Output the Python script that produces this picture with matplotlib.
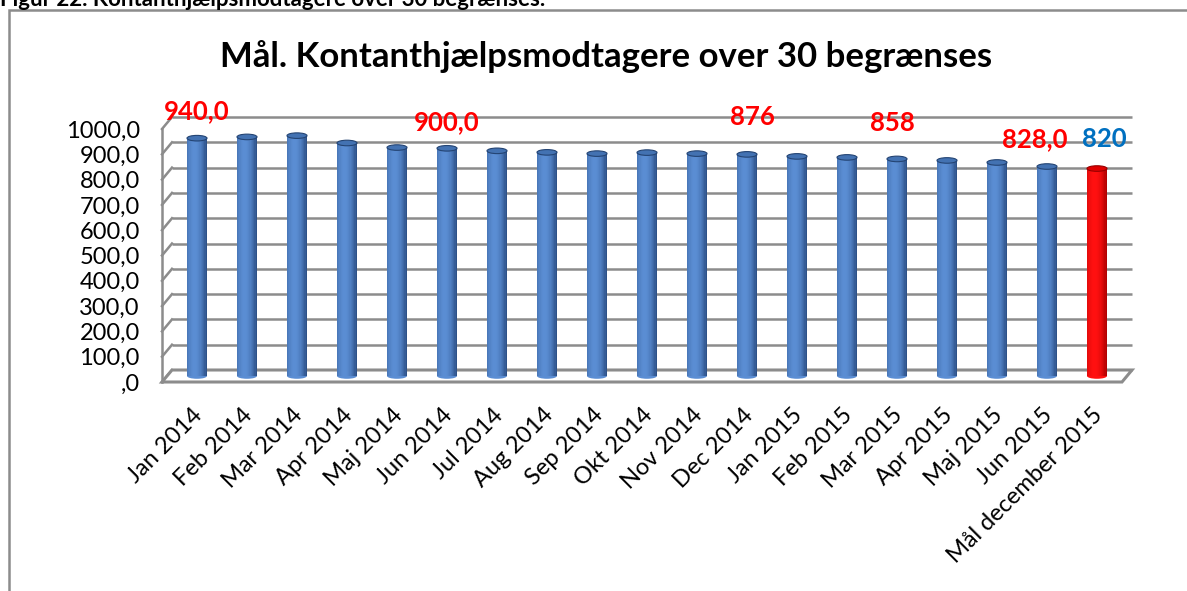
import numpy as np
import matplotlib
matplotlib.use("Agg")
import matplotlib.pyplot as plt
from matplotlib.patches import Ellipse, Rectangle, Polygon
from matplotlib.transforms import ScaledTranslation
from matplotlib.colors import to_rgb

plt.rcParams["font.family"] = ["Lato", "DejaVu Sans"]

# ---- data ----
months = ["Jan 2014", "Feb 2014", "Mar 2014", "Apr 2014", "Maj 2014", "Jun 2014",
          "Jul 2014", "Aug 2014", "Sep 2014", "Okt 2014", "Nov 2014", "Dec 2014",
          "Jan 2015", "Feb 2015", "Mar 2015", "Apr 2015", "Maj 2015", "Jun 2015",
          "Mål december 2015"]
values = [940, 945, 950, 921, 903, 900, 890, 884, 879, 883, 879, 876,
          868, 864, 858, 852, 844, 828, 820]
is_goal = [False] * 18 + [True]
y_ticks = [0, 100, 200, 300, 400, 500, 600, 700, 800, 900, 1000]
y_tick_labels = [",0", "100,0", "200,0", "300,0", "400,0", "500,0",
                 "600,0", "700,0", "800,0", "900,0", "1000,0"]
label_texts = ["940,0", "900,0", "876", "858", "828,0", "820"]

title = "Mål. Kontanthjælpsmodtagere over 30 begrænses"
caption = "Figur 22. Kontanthjælpsmodtagere over 30 begrænses."

# ---- style ----
W, H = 1187, 591
BLUE_EDGE, BLUE_HI, BLUE_TOP = "#284b80", "#5a8dd3", "#4372b2"
RED_EDGE, RED_HI, RED_TOP = "#a80000", "#ff1010", "#e00000"
GRID = "#8c8c8c"
label_pos = [(0.0, 1045), (5.0, 1004), (11.1, 1024), (13.9, 1000), (16.75, 935), (18.15, 935)]
label_colors = ["red", "red", "red", "red", "red", "#0070c0"]

fig = plt.figure(figsize=(W / 100, H / 100), dpi=100)
# axes = front plane of the 3D box
ax = fig.add_axes([162 / W, (H - 382) / H, 960 / W, 253 / H])
ax.set_xlim(-0.6, 18.6)
ax.set_ylim(0, 1000)
for s in ax.spines.values():
    s.set_visible(False)
ax.set_facecolor("none")

px = fig.dpi_scale_trans
mid_tr = ax.transData + ScaledTranslation(5 / 100, 6 / 100, px)
back_tr = ax.transData + ScaledTranslation(10 / 100, 12 / 100, px)

# depth offset expressed in data units (for the side wall / floor connectors)
dx = 10 / 50
dy = 12 / 253 * 1000
x0, x1 = ax.get_xlim()

# back wall gridlines
ax.hlines(y_ticks, x0, x1, colors=GRID, lw=1.8, transform=back_tr, zorder=1, clip_on=False)
# left side wall
for v in y_ticks:
    ax.plot([x0, x0 + dx], [v, v + dy], color=GRID, lw=1.8, zorder=1, clip_on=False)
ax.plot([x0, x0], [0, 1000], color=GRID, lw=1.8, zorder=1, clip_on=False)
# floor
floor = Polygon([(x0, 0), (x1, 0), (x1 + dx, dy), (x0 + dx, dy)], closed=True,
                facecolor="white", edgecolor=GRID, lw=2.2, zorder=1.5, clip_on=False)
ax.add_patch(floor)

# cylinders built from thin strips for the shading
n_strips = 16
bar_w = 0.4
t = (np.arange(n_strips) + 0.5) / n_strips
shade = np.clip(1 - ((t - 0.38) / 0.62) ** 2, 0, 1)
x = np.arange(len(values))
for i, (v, goal) in enumerate(zip(values, is_goal)):
    e, h, top = (RED_EDGE, RED_HI, RED_TOP) if goal else (BLUE_EDGE, BLUE_HI, BLUE_TOP)
    e, h = np.array(to_rgb(e)), np.array(to_rgb(h))
    cols = [tuple(e + (h - e) * s) for s in shade]
    xs = x[i] - bar_w / 2 + (t * bar_w)
    ax.add_patch(Ellipse((x[i], 0), bar_w, 22, facecolor=cols[n_strips // 2 - 2],
                         edgecolor="none", transform=mid_tr, zorder=2, clip_on=False))
    ax.bar(xs, [v] * n_strips, width=bar_w / n_strips * 1.08, color=cols,
           transform=mid_tr, zorder=3, clip_on=False, linewidth=0)
    ax.add_patch(Ellipse((x[i], v), bar_w, 22, facecolor=top, edgecolor=e * 0.9,
                         lw=0.8, transform=mid_tr, zorder=4, clip_on=False))

# data labels
for txt, (lx, ly), c in zip(label_texts, label_pos, label_colors):
    ax.text(lx, ly, txt, color=c, fontsize=18.5, fontweight="bold",
            ha="center", va="center", transform=mid_tr, zorder=5, clip_on=False)

ax.set_yticks(y_ticks)
ax.set_yticklabels(y_tick_labels, fontsize=17)
ax.tick_params(axis="y", length=0, pad=16)
ax.set_xticks(x)
ax.set_xticklabels(months, fontsize=17, rotation=45, ha="right",
                   rotation_mode="anchor")
ax.tick_params(axis="x", length=0, pad=16)

fig.text(606 / W, 1 - 57 / H, title, fontsize=25, fontweight="bold",
         ha="center", va="center")
fig.text(0, 1 - 6 / H, caption, fontsize=16, fontweight="bold",
         ha="left", va="baseline")
frame = Rectangle((9 / W, -0.05), 1.1, 1 - 10 / H + 0.05, transform=fig.transFigure,
                  fill=False, edgecolor="#8c8c8c", lw=1.8)
fig.add_artist(frame)

fig.savefig("out.png", dpi=100, facecolor="white")
